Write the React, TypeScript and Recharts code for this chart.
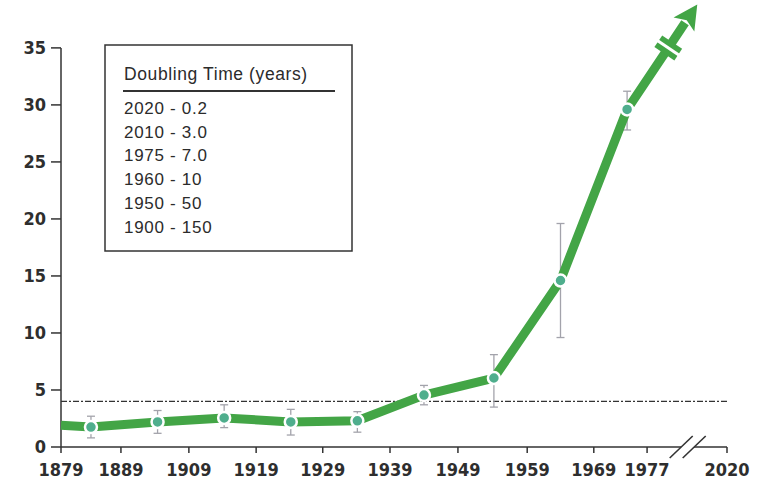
import React from 'react';
import {
  LineChart,
  Line,
  XAxis,
  YAxis,
  ErrorBar,
  ReferenceLine,
  ReferenceDot,
  Customized,
} from 'recharts';

// ---- data ----
const pointPos = [0.45, 1.45, 2.45, 3.45, 4.45, 5.45, 6.5, 7.5, 8.5];
const pointValues = [1.75, 2.2, 2.55, 2.2, 2.3, 4.55, 6.05, 14.6, 29.6];
const upperBounds = [2.7, 3.2, 3.7, 3.3, 3.1, 5.4, 8.1, 19.6, 31.2];
const lowerBounds = [0.8, 1.2, 1.7, 1.05, 1.3, 3.7, 3.5, 9.6, 27.8];
const startPoint = { x: 0, y: 1.9 };
const arrowPoint = { x: 9.37, y: 37.2 };
const breakValue = 35;
const thresholdValue = 4;
const xTickPos = [0, 0.9, 1.92, 2.93, 3.93, 4.94, 5.96, 7.0, 8.0, 8.8, 10];
const xTickLabels = ['1879', '1889', '1909', '1919', '1929', '1939', '1949', '1959', '1969', '1977', '2020'];
const yTicks = [0, 5, 10, 15, 20, 25, 30, 35];
const axisBreakPos = 9.41;
const legendTitle = 'Doubling Time (years)';
const legendRows = ['2020 - 0.2', '2010 - 3.0', '1975 - 7.0', '1960 - 10', '1950 - 50', '1900 - 150'];

// ---- style ----
const GREEN = '#43a546';
const TEAL = '#4fae8d';
const AXIS = '#333333';
const ERR = '#a3a3ab';
const TICK_FONT = "'Liberation Sans Narrow', 'DejaVu Sans Condensed', 'Liberation Sans', sans-serif";
const BOX_FONT = "'Liberation Sans', Arial, sans-serif";

// ---- tables built from data ----
const points = pointPos.map((x, i) => ({
  x,
  y: pointValues[i],
  err: [pointValues[i] - lowerBounds[i], upperBounds[i] - pointValues[i]],
}));
const lastPt = points[points.length - 1];
const tBreak = (breakValue - lastPt.y) / (arrowPoint.y - lastPt.y);
const breakPoint = {
  x: lastPt.x + tBreak * (arrowPoint.x - lastPt.x),
  y: breakValue,
  kind: 'break',
};
const pathData = [
  { ...startPoint },
  ...points.map((p) => ({ x: p.x, y: p.y })),
  breakPoint,
  { ...arrowPoint, kind: 'arrow' },
];

const seen: { x: number; y: number }[] = [];

const PathDot = (props: any) => {
  const { cx, cy, index, payload } = props;
  seen[index] = { x: cx, y: cy };
  const prev = seen[index - 1];
  if (!payload || !payload.kind || !prev) return <g key={`pd-${index}`} />;
  const ang = (Math.atan2(cy - prev.y, cx - prev.x) * 180) / Math.PI;
  if (payload.kind === 'break') {
    return (
      <g key={`pd-${index}`} transform={`translate(${cx},${cy}) rotate(${ang})`}>
        <rect x={-7} y={-12} width={14} height={24} fill={GREEN} />
        <rect x={-1.5} y={-14} width={3} height={28} fill="#ffffff" />
      </g>
    );
  }
  return (
    <g key={`pd-${index}`} transform={`translate(${cx},${cy}) rotate(${ang})`}>
      <path d="M22 0 L-2 -12.5 L3 0 L-2 12.5 Z" fill={GREEN} />
    </g>
  );
};

const AxisBreak = (props: any) => {
  const { cx, cy } = props;
  return (
    <g>
      <polygon
        points={`${cx - 12},${cy + 6} ${cx - 1},${cy - 6} ${cx + 12},${cy - 6} ${cx + 1},${cy + 6}`}
        fill="#ffffff"
      />
      <line x1={cx - 18} y1={cy + 11} x2={cx + 5} y2={cy - 11} stroke={AXIS} strokeWidth={1.6} />
      <line x1={cx - 5} y1={cy + 11} x2={cx + 18} y2={cy - 11} stroke={AXIS} strokeWidth={1.6} />
    </g>
  );
};

const LegendBox = () => {
  const left = 105;
  const top = 45;
  return (
    <g>
      <rect x={left} y={top} width={247} height={206} fill="#ffffff" stroke={AXIS} strokeWidth={1.5} />
      <text x={left + 19} y={top + 35} fontFamily={BOX_FONT} fontSize={17.5} letterSpacing={0.6} fill="#2b2b2b">
        {legendTitle}
      </text>
      <line x1={left + 18} y1={top + 46} x2={left + 230} y2={top + 46} stroke={AXIS} strokeWidth={2} />
      {legendRows.map((r, i) => (
        <text
          key={r}
          x={left + 19}
          y={top + 69 + i * 23.7}
          fontFamily={BOX_FONT}
          fontSize={17}
          letterSpacing={0.7}
          fill="#2b2b2b"
        >
          {r}
        </text>
      ))}
    </g>
  );
};

const fmtX = (v: number) => {
  const i = xTickPos.indexOf(v);
  return i >= 0 ? xTickLabels[i] : '';
};

export default function App() {
  return (
    <div style={{ position: 'absolute', left: 0, top: 0, width: 764, height: 486 }}>
      <LineChart width={764} height={486} margin={{ top: 0, right: 37, bottom: 0, left: 0 }}>
        <XAxis
          type="number"
          dataKey="x"
          domain={[0, 10]}
          ticks={xTickPos}
          interval={0}
          tickFormatter={fmtX}
          height={39}
          tickSize={6}
          tickMargin={10}
          axisLine={{ stroke: AXIS, strokeWidth: 1.5 }}
          tickLine={{ stroke: AXIS, strokeWidth: 1.5 }}
          tick={{ fill: '#2e2e2e', fontSize: 18, fontFamily: TICK_FONT, fontWeight: 700 }}
        />
        <YAxis
          type="number"
          domain={[0, 39.2]}
          ticks={yTicks}
          interval={0}
          width={61}
          axisLine={false}
          tickSize={10}
          tickMargin={5}
          tickLine={{ stroke: AXIS, strokeWidth: 1.5 }}
          tick={{ fill: '#2e2e2e', fontSize: 18, fontFamily: TICK_FONT, fontWeight: 700 }}
        />
        <ReferenceLine
          segment={[{ x: 0, y: 0 }, { x: 0, y: breakValue }]}
          stroke={AXIS}
          strokeWidth={1.5}
          ifOverflow="visible"
        />
        <ReferenceLine y={thresholdValue} stroke={AXIS} strokeWidth={1.4} strokeDasharray="6 2 2 2" />
        <ReferenceDot x={axisBreakPos} y={0} r={1} ifOverflow="visible" shape={AxisBreak} />
        <Line
          data={points}
          dataKey="y"
          stroke="none"
          dot={false}
          activeDot={false}
          isAnimationActive={false}
        >
          <ErrorBar dataKey="err" width={4} stroke={ERR} strokeWidth={1.3} direction="y" />
        </Line>
        <Line
          data={pathData}
          dataKey="y"
          stroke={GREEN}
          strokeWidth={9}
          strokeLinejoin="round"
          dot={PathDot}
          activeDot={false}
          isAnimationActive={false}
        />
        <Line
          data={points}
          dataKey="y"
          stroke="none"
          dot={{ r: 6, fill: TEAL, stroke: '#ffffff', strokeWidth: 2.5 }}
          activeDot={false}
          isAnimationActive={false}
        />
        <Customized component={LegendBox} />
      </LineChart>
    </div>
  );
}
